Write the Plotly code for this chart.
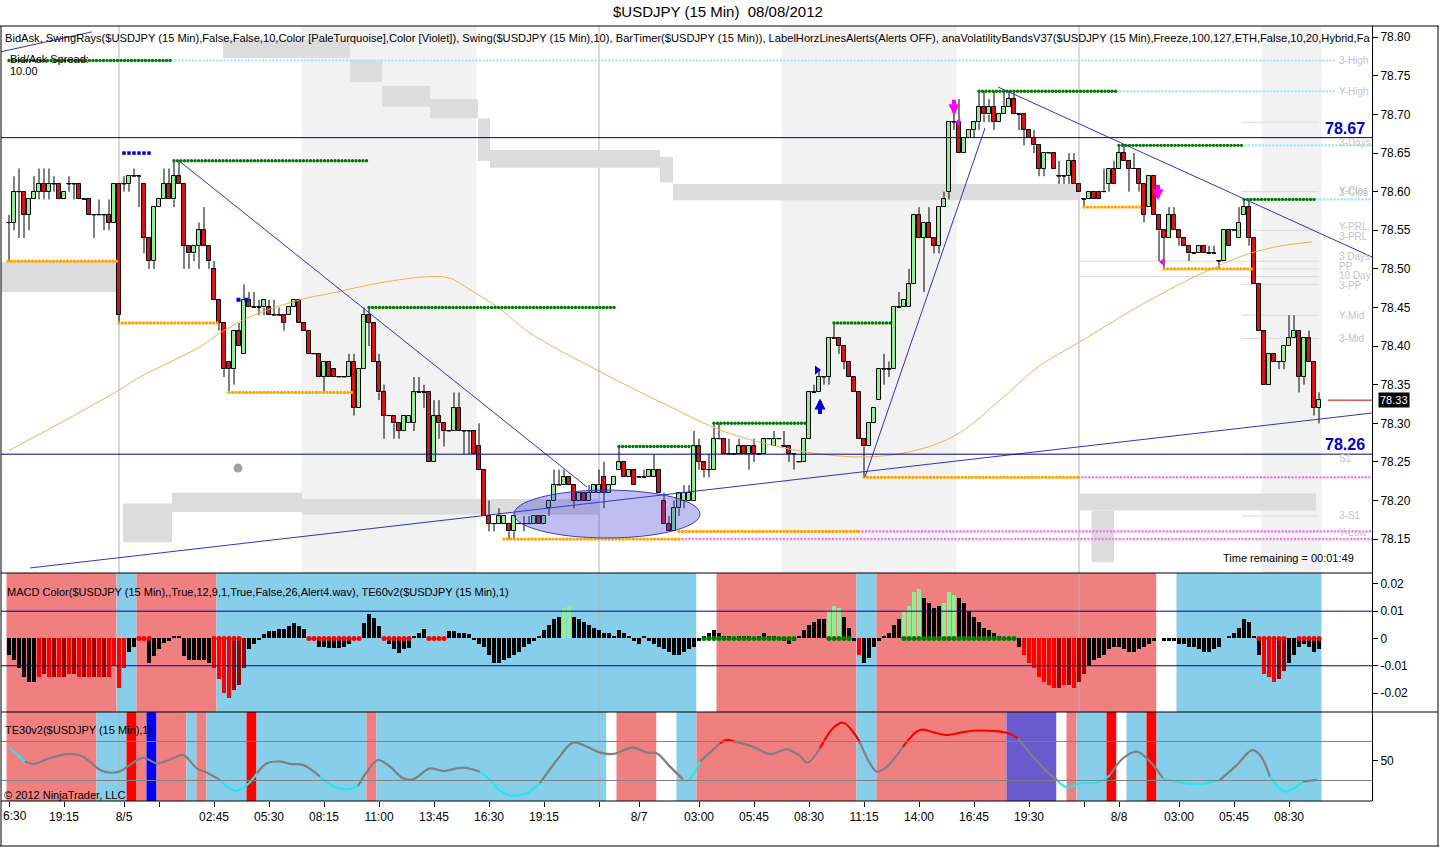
import plotly.graph_objects as go

FONT = "Liberation Sans, Arial, sans-serif"

# ---------------- price bars (15 min), index 0..262 ----------------
opens = [
 78.56,78.56,78.60,78.60,78.57,78.59,78.60,78.61,78.60,78.61,
 78.61,78.59,78.61,78.61,78.61,78.59,78.59,78.57,78.57,78.57,
 78.57,78.56,78.61,78.61,78.61,78.62,78.62,78.61,78.54,78.51,
 78.58,78.59,78.61,78.59,78.62,78.61,78.53,78.52,78.53,78.55,
 78.53,78.50,78.46,78.43,78.38,78.37,78.42,78.39,78.46,78.45,
 78.45,78.45,78.45,78.44,78.44,78.44,78.44,78.45,78.46,78.43,
 78.42,78.39,78.39,78.36,78.38,78.37,78.36,78.36,78.36,78.38,
 78.32,78.37,78.44,78.43,78.38,78.34,78.31,78.31,78.30,78.29,
 78.30,78.30,78.34,78.34,78.34,78.25,78.31,78.30,78.29,78.29,
 78.32,78.29,78.29,78.29,78.27,78.24,78.18,78.17,78.17,78.17,
 78.17,78.16,78.17,78.17,78.17,78.17,78.18,78.17,78.19,78.20,
 78.22,78.22,78.23,78.22,78.20,78.21,78.20,78.21,78.21,78.23,
 78.21,78.22,78.24,78.25,78.23,78.24,78.23,78.23,78.23,78.23,
 78.24,78.20,78.17,78.16,78.19,78.20,78.20,78.20,78.27,78.25,
 78.24,78.24,78.28,78.28,78.26,78.26,78.26,78.27,78.26,78.27,
 78.26,78.26,78.28,78.27,78.28,78.27,78.27,78.26,78.25,78.25,
 78.28,78.34,78.34,78.36,78.36,78.41,78.41,78.40,78.38,78.36,
 78.34,78.28,78.27,78.30,78.33,78.37,78.37,78.37,78.45,78.45,
 78.45,78.48,78.57,78.54,78.56,78.54,78.53,78.58,78.60,78.69,
 78.69,78.65,78.67,78.68,78.69,78.71,78.70,78.71,78.69,78.70,
 78.71,78.72,78.70,78.70,78.68,78.67,78.66,78.63,78.65,78.65,
 78.62,78.62,78.62,78.64,78.61,78.59,78.59,78.60,78.60,78.60,
 78.61,78.63,78.63,78.65,78.64,78.63,78.63,78.61,78.58,78.62,
 78.57,78.55,78.54,78.57,78.55,78.54,78.53,78.52,78.52,78.53,
 78.52,78.52,78.51,78.51,78.55,78.55,78.54,78.57,78.58,78.54,
 78.48,78.42,78.35,78.39,78.38,78.38,78.40,78.41,78.42,78.36,
 78.41,78.38,78.32]
highs = [
 78.57,78.62,78.63,78.60,78.59,78.62,78.63,78.63,78.63,78.62,
 78.61,78.60,78.62,78.61,78.61,78.59,78.59,78.57,78.59,78.57,
 78.59,78.61,78.61,78.62,78.62,78.63,78.62,78.61,78.54,78.58,
 78.59,78.63,78.63,78.64,78.64,78.61,78.53,78.53,78.56,78.58,
 78.53,78.51,78.46,78.43,78.38,78.42,78.43,78.48,78.47,78.47,
 78.46,78.46,78.46,78.46,78.45,78.44,78.45,78.46,78.46,78.43,
 78.42,78.39,78.39,78.38,78.38,78.37,78.36,78.36,78.39,78.39,
 78.37,78.45,78.45,78.43,78.39,78.35,78.31,78.31,78.30,78.31,
 78.31,78.36,78.36,78.35,78.34,78.33,78.33,78.30,78.29,78.34,
 78.34,78.29,78.29,78.29,78.30,78.24,78.20,78.17,78.19,78.18,
 78.17,78.18,78.17,78.18,78.18,78.18,78.18,78.18,78.20,78.24,
 78.24,78.24,78.23,78.22,78.21,78.21,78.22,78.22,78.24,78.25,
 78.22,78.23,78.27,78.25,78.24,78.24,78.23,78.24,78.24,78.26,
 78.24,78.21,78.18,78.20,78.21,78.22,78.22,78.29,78.28,78.25,
 78.26,78.30,78.30,78.28,78.28,78.26,78.28,78.27,78.27,78.28,
 78.26,78.28,78.28,78.29,78.28,78.29,78.27,78.26,78.25,78.28,
 78.34,78.35,78.37,78.36,78.41,78.43,78.41,78.40,78.38,78.36,
 78.34,78.28,78.30,78.32,78.37,78.39,78.38,78.45,78.47,78.46,
 78.50,78.57,78.58,78.56,78.58,78.54,78.58,78.60,78.69,78.71,
 78.72,78.67,78.68,78.69,78.73,78.73,78.72,78.73,78.70,78.73,
 78.73,78.73,78.70,78.70,78.68,78.68,78.66,78.65,78.65,78.65,
 78.64,78.62,78.65,78.65,78.61,78.59,78.60,78.60,78.60,78.63,
 78.63,78.64,78.66,78.66,78.64,78.65,78.63,78.61,78.62,78.62,
 78.57,78.55,78.58,78.58,78.55,78.54,78.53,78.52,78.53,78.53,
 78.53,78.53,78.51,78.55,78.55,78.55,78.58,78.59,78.59,78.54,
 78.48,78.42,78.39,78.39,78.38,78.40,78.44,78.44,78.42,78.41,
 78.42,78.38,78.34]
lows = [
 78.51,78.55,78.54,78.54,78.55,78.59,78.59,78.59,78.59,78.60,
 78.59,78.59,78.60,78.59,78.59,78.59,78.57,78.54,78.57,78.55,
 78.55,78.56,78.43,78.60,78.60,78.62,78.58,78.52,78.50,78.50,
 78.58,78.59,78.59,78.58,78.61,78.50,78.50,78.51,78.50,78.53,
 78.50,78.46,78.42,78.36,78.34,78.35,78.40,78.39,78.45,78.45,
 78.44,78.44,78.44,78.44,78.44,78.42,78.44,78.45,78.43,78.42,
 78.39,78.39,78.36,78.34,78.36,78.36,78.36,78.36,78.36,78.31,
 78.32,78.37,78.40,78.38,78.33,78.28,78.31,78.28,78.28,78.29,
 78.30,78.29,78.34,78.32,78.25,78.25,78.28,78.27,78.29,78.29,
 78.29,78.26,78.26,78.26,78.24,78.18,78.16,78.16,78.17,78.17,
 78.15,78.15,78.17,78.16,78.17,78.17,78.17,78.17,78.18,78.20,
 78.22,78.22,78.22,78.19,78.20,78.20,78.20,78.21,78.21,78.19,
 78.21,78.22,78.24,78.23,78.23,78.22,78.23,78.23,78.23,78.23,
 78.21,78.17,78.16,78.16,78.18,78.19,78.20,78.20,78.24,78.23,
 78.23,78.24,78.28,78.26,78.26,78.26,78.26,78.26,78.24,78.25,
 78.26,78.26,78.28,78.27,78.28,78.27,78.25,78.24,78.25,78.25,
 78.28,78.34,78.34,78.35,78.35,78.41,78.39,78.37,78.36,78.34,
 78.28,78.23,78.27,78.30,78.33,78.35,78.36,78.37,78.45,78.45,
 78.45,78.48,78.54,78.47,78.54,78.52,78.52,78.58,78.59,78.68,
 78.65,78.65,78.67,78.67,78.68,78.69,78.69,78.68,78.69,78.70,
 78.71,78.70,78.68,78.66,78.67,78.65,78.62,78.62,78.65,78.63,
 78.61,78.61,78.61,78.61,78.60,78.58,78.59,78.59,78.59,78.60,
 78.60,78.61,78.63,78.64,78.60,78.63,78.60,78.56,78.58,78.57,
 78.51,78.50,78.54,78.55,78.53,78.53,78.51,78.52,78.52,78.52,
 78.52,78.52,78.50,78.51,78.53,78.55,78.54,78.57,78.53,78.48,
 78.42,78.35,78.35,78.38,78.37,78.37,78.40,78.41,78.34,78.35,
 78.38,78.31,78.30]
closes = [
 78.56,78.60,78.60,78.57,78.59,78.60,78.61,78.60,78.61,78.61,
 78.59,78.60,78.61,78.61,78.59,78.59,78.57,78.57,78.57,78.57,
 78.56,78.61,78.44,78.61,78.62,78.62,78.62,78.54,78.51,78.58,
 78.59,78.61,78.59,78.62,78.61,78.53,78.52,78.53,78.55,78.53,
 78.51,78.46,78.43,78.37,78.37,78.42,78.40,78.46,78.45,78.45,
 78.45,78.46,78.44,78.44,78.44,78.43,78.45,78.46,78.43,78.42,
 78.39,78.39,78.36,78.38,78.36,78.36,78.36,78.36,78.38,78.32,
 78.37,78.44,78.43,78.38,78.34,78.31,78.31,78.30,78.29,78.31,
 78.31,78.34,78.34,78.34,78.25,78.31,78.30,78.29,78.29,78.32,
 78.29,78.29,78.29,78.26,78.24,78.18,78.17,78.17,78.18,78.18,
 78.16,78.18,78.17,78.17,78.17,78.18,78.17,78.18,78.20,78.22,
 78.22,78.23,78.22,78.20,78.21,78.20,78.21,78.22,78.22,78.21,
 78.22,78.23,78.25,78.23,78.24,78.22,78.23,78.23,78.24,78.24,
 78.21,78.17,78.16,78.19,78.21,78.21,78.21,78.27,78.25,78.24,
 78.24,78.28,78.28,78.26,78.26,78.26,78.27,78.26,78.27,78.26,
 78.26,78.28,78.28,78.28,78.28,78.27,78.26,78.26,78.25,78.28,
 78.34,78.34,78.36,78.36,78.41,78.41,78.40,78.38,78.36,78.34,
 78.28,78.27,78.30,78.32,78.37,78.37,78.37,78.45,78.45,78.46,
 78.48,78.57,78.54,78.56,78.54,78.53,78.58,78.59,78.69,78.69,
 78.65,78.67,78.68,78.69,78.71,78.70,78.71,78.69,78.70,78.71,
 78.72,78.70,78.70,78.68,78.67,78.66,78.63,78.65,78.65,78.63,
 78.62,78.62,78.64,78.61,78.60,78.59,78.60,78.59,78.59,78.60,
 78.63,78.61,78.65,78.64,78.63,78.63,78.61,78.57,78.62,78.57,
 78.55,78.54,78.57,78.55,78.54,78.53,78.52,78.52,78.53,78.52,
 78.52,78.52,78.51,78.55,78.53,78.55,78.56,78.58,78.54,78.48,
 78.42,78.35,78.39,78.38,78.38,78.40,78.41,78.42,78.36,78.41,
 78.38,78.32,78.33]

x_tick_idx = [0, 11, 23, 30, 41, 52, 63, 74, 85, 96, 107, 118, 126, 138, 149, 160,
              171, 182, 193, 204, 215, 222, 234, 245, 256]
x_tick_lbl = ["", "19:15", "8/5", "", "02:45", "05:30", "08:15", "11:00", "13:45",
              "16:30", "19:15", "", "8/7", "03:00", "05:45", "08:30", "11:15", "14:00",
              "16:45", "19:30", "", "8/8", "03:00", "05:45", "08:30"]
first_tick_visible = "6:30"   # the "16:30" label at the left edge is cut to "6:30" in the chart
price_ticks = [78.15, 78.20, 78.25, 78.30, 78.35, 78.40, 78.45, 78.50, 78.55, 78.60,
               78.65, 78.70, 78.75, 78.80]
macd_ticks = [0.02, 0.01, 0.0, -0.01, -0.02]
macd_tick_lbl = ["0.02", "0.01", "0", "-0.01", "-0.02"]

# moving average (orange), read at sample bars
ma_x = [0, 7.6, 22, 26.2, 38.2, 42.2, 48.2, 58.2, 64.8, 74.2, 84.2, 88.2, 92.2, 97.6,
        104.2, 117.6, 124.2, 130.8, 143.6, 160.2, 173.6, 183.6, 190.2, 198.2, 205.8,
        213.8, 225.8, 237.2, 247.2, 253.8, 260.6]
ma_y = [78.265, 78.291, 78.343, 78.360, 78.399, 78.417, 78.438, 78.460, 78.469, 78.482,
        78.490, 78.488, 78.473, 78.451, 78.417, 78.369, 78.347, 78.326, 78.288, 78.262,
        78.257, 78.269, 78.288, 78.330, 78.373, 78.404, 78.451, 78.490, 78.518, 78.529,
        78.535]

# swing rays: (start bar, end bar, level)
green_rays = [(0, 32.6, 78.77), (33, 71.6, 78.64), (72, 121.6, 78.45), (122, 136.6, 78.27),
              (141, 159.6, 78.30), (165, 176.6, 78.43), (194, 221.6, 78.73),
              (222, 246.6, 78.66), (247, 261.6, 78.59)]
orange_rays = [(-0.2, 21.6, 78.51), (22, 41.6, 78.43), (44, 68.6, 78.34), (99, 134, 78.15),
               (134, 170, 78.16), (171, 214, 78.23), (215, 226.6, 78.58), (231, 248.6, 78.50)]
turq_rays = [(32.6, 265.2, 78.77), (221.6, 265.2, 78.73), (246.6, 272.6, 78.66),
             (261.6, 272.6, 78.59)]
violet_rays = [(214, 272.6, 78.23), (170, 272.6, 78.16), (134, 272.6, 78.15)]

# trend lines: (x0, p0, x1, p1)
trend_lines = [(34.0, 78.640, 115.6, 78.2175), (4.2, 78.1126, 272.6, 78.3133),
               (171.2, 78.2304, 195.2, 78.6825), (197.8, 78.7356, 272.6, 78.5154),
               (-1.8, 78.781, 16.6, 78.807)]
hlines = [78.67, 78.26]

# pivot levels (short light-gray lines) and right-hand labels
pivot_lines = [(246.5, 262, 78.69), (246.5, 262, 78.60), (246.5, 262, 78.55),
               (214, 262, 78.51), (246.5, 262, 78.50), (214, 262, 78.49),
               (246.5, 262, 78.48), (246.5, 262, 78.44), (246.5, 262, 78.41),
               (246.5, 262, 78.26), (246.5, 262, 78.18)]
pivot_labels = [("3-High", 78.77), ("Y-High", 78.73), ("3-Days", 78.664), ("Y-Clos", 78.601),
                ("3-Clos", 78.599), ("Y-PRL", 78.555), ("3-PRL", 78.542), ("3 Days", 78.516),
                ("PP", 78.503), ("10 Day", 78.491), ("3-PP", 78.479), ("Y-Mid", 78.44),
                ("3-Mid", 78.41), ("S1", 78.255), ("3-S1", 78.18), ("Y-Low", 78.158)]

# volatility band blocks: (bar0, bar1, low, high)
vb_rects = [(42.8, 68.2, 78.773, 78.797), (68.2, 74.6, 78.742, 78.771),
            (74.6, 84.2, 78.710, 78.737), (84.2, 93.8, 78.695, 78.720),
            (93.8, 96.2, 78.640, 78.695), (96.2, 130.2, 78.631, 78.654),
            (130.2, 132.8, 78.612, 78.645), (132.8, 213.8, 78.589, 78.610),
            (-1.6, 21.6, 78.470, 78.509),
            (22.8, 32.6, 78.146, 78.196), (32.6, 58.6, 78.185, 78.210),
            (58.6, 118.0, 78.182, 78.202),
            (214.2, 261.4, 78.187, 78.209), (216.5, 221.0, 78.120, 78.187)]
session_shade = [(58.5, 93.5), (154.5, 189.5), (250.5, 262.5)]
session_lines = [22, 118, 214]

# ellipse (center bar, center price, half width bars, half height price)
ell = (119.6, 78.1825, 18.6, 0.031)

# ---------------- MACD panel ----------------
macd_vals = [
 -0.006,-0.008,-0.011,-0.014,-0.016,-0.016,-0.014,-0.013,-0.014,-0.014,
 -0.014,-0.014,-0.013,-0.013,-0.014,-0.014,-0.014,-0.014,-0.014,-0.014,
 -0.014,-0.010,-0.018,-0.011,-0.005,-0.003,-0.0005,-0.0005,-0.009,-0.0065,
 -0.004,-0.0016,-0.001,0.001,0.001,-0.0065,-0.008,-0.008,-0.008,-0.008,
 -0.009,-0.011,-0.015,-0.020,-0.022,-0.019,-0.017,-0.011,-0.004,-0.002,
 -0.0005,0.0015,0.0027,0.0027,0.0033,0.0033,0.0045,0.0057,0.0045,0.0033,
 -0.0005,-0.0005,-0.003,-0.003,-0.0035,-0.0035,-0.0035,-0.003,-0.002,-0.0005,
 -0.0005,0.0057,0.0088,0.0076,0.0045,-0.0005,-0.0022,-0.004,-0.0052,-0.004,
 -0.0034,0.0009,0.002,0.0033,-0.0005,-0.0005,-0.0005,-0.0005,0.0027,0.0027,
 0.002,0.002,0.0015,-0.0006,-0.002,-0.003,-0.006,-0.009,-0.009,-0.008,
 -0.007,-0.006,-0.005,-0.003,-0.002,-0.001,0.001,0.003,0.005,0.007,
 0.008,0.011,0.012,0.008,0.007,0.006,0.005,0.004,0.003,0.002,
 0.002,0.001,0.003,0.002,0.001,-0.001,-0.002,0.001,-0.001,-0.002,
 -0.003,-0.004,-0.005,-0.006,-0.006,-0.005,-0.004,-0.003,-0.001,0.001,
 0.002,0.003,0.002,0.001,0.001,0.0,0.001,0.001,0.001,0.0,
 0.001,0.002,0.001,0.001,0.0,-0.001,-0.002,-0.001,0.001,0.003,
 0.005,0.006,0.007,0.007,0.010,0.012,0.011,0.008,0.004,-0.001,
 -0.006,-0.009,-0.007,-0.003,-0.001,0.001,0.002,0.005,0.007,0.010,
 0.012,0.017,0.018,0.015,0.013,0.011,0.012,0.013,0.017,0.016,
 0.015,0.013,0.010,0.008,0.006,0.004,0.003,0.002,0.001,0.0,
 0.0,0.0,-0.003,-0.006,-0.009,-0.011,-0.014,-0.016,-0.017,-0.018,
 -0.018,-0.017,-0.017,-0.018,-0.016,-0.013,-0.010,-0.008,-0.007,-0.006,
 -0.004,-0.003,-0.003,-0.004,-0.005,-0.005,-0.004,-0.003,-0.002,-0.001,
 0.0,-0.001,-0.001,-0.001,-0.002,-0.002,-0.003,-0.003,-0.004,-0.005,
 -0.005,-0.004,-0.003,0.0,0.001,0.002,0.004,0.007,0.006,0.001,
 -0.006,-0.013,-0.014,-0.016,-0.015,-0.012,-0.009,-0.006,-0.003,-0.002,
 -0.003,-0.005,-0.004]
# histogram state per bar: k=black, r=red, d=dark red, g=light green
macd_state = ("k" * 6 + "rd" * 7 + "r" + "rrr" + "k" * 17 + "rrrr" + "ddd" + "k" * 63 + "gg"
              + "k" * 51 + "ggg" + "kkk" + "r" + "k" * 8 + "gggg" + "kkkk" + "ggg" + "k" * 13
              + "rrrrrrr" + "d" + "r" + "d" + "r" + "dd" + "k" * 35 + "rrr" + "dd" + "k" * 7)
macd_red_dots = [(26, 28), (41, 46), (60, 70), (75, 80), (84, 87), (250, 255), (258, 262)]
macd_green_dots = [(139, 157), (164, 168), (179, 201)]
macd_bg = [(0, 21, "s"), (22, 25, "b"), (26, 41, "s"), (42, 137, "b"), (138, 141, "w"),
           (142, 169, "s"), (170, 173, "b"), (174, 229, "s"), (230, 233, "w"), (234, 262, "b")]

# ---------------- TE30 panel ----------------
te_x = [0.2, 3.2, 4.8, 8.2, 12.2, 14.8, 18.2, 20.2, 22.2, 24.2, 26.8, 29.6, 32.8, 34.8,
        37.6, 39.6, 42.2, 45.2, 47.6, 49.6, 51.6, 54.2, 56.2, 58.8, 62.2, 64.8, 67.6,
        69.8, 71.6, 73.8, 76.2, 78.8, 80.8, 84.2, 86.8, 90.8, 94.2, 96.2, 98.2, 100.8,
        103.6, 106.2, 109.6, 112.8, 115.6, 118.2, 120.8, 124.8, 127.6, 129.6, 132.2,
        134.8, 135.8, 138.2, 142.2, 143.6, 145.2, 148.8, 151.6, 152.8, 155.6, 158.2,
        159.6, 162.2, 164.8, 166.8, 168.8, 170.2, 172.2, 173.6, 175.6, 178.8, 182.2,
        185.6, 187.6, 190.2, 192.8, 196.8, 199.6, 201.8, 204.8, 207.6, 209.6, 211.6,
        214.2, 218.2, 220.2, 222.8, 225.6, 228.2, 230.8, 233.6, 238.2, 242.2, 245.6,
        248.6, 250.2, 252.2, 255.2, 258.8, 261.6]
te_v = [56.5, 49.7, 48.5, 51.5, 53.6, 52.2, 45.4, 44.0, 44.7, 48.0, 51.7, 48.8, 51.4, 53.1,
        46.2, 44.0, 40.3, 34.8, 37.7, 43.7, 48.8, 49.7, 48.5, 48.0, 42.0, 37.2, 35.5,
        37.2, 44.5, 50.5, 47.1, 41.1, 40.6, 46.2, 44.9, 46.6, 44.5, 40.3, 34.8, 32.2,
        33.5, 38.6, 50.5, 59.4, 57.3, 54.3, 53.6, 56.8, 54.3, 53.9, 47.1,
        40.6, 39.9, 49.7, 59.1, 60.8, 59.9, 57.3, 53.9, 53.6, 56.0, 52.6,
        49.1, 56.5, 66.8, 69.6, 65.0, 59.4, 48.8, 44.5, 47.1, 57.3, 65.9,
        64.2, 63.3, 64.5, 65.5, 65.4, 64.5, 61.6, 52.2, 44.5, 40.3, 36.5,
        38.6, 39.4, 42.8, 51.4, 54.8, 49.7, 41.1, 39.4, 38.2, 40.3, 48.0,
        55.6, 53.1, 42.0, 34.3, 39.4, 40.3]
te_cyan_spans = [(0, 3.2), (42.2, 49.6), (62.2, 69.8), (94.2, 106.2), (134.8, 138.2),
                 (209.6, 220.2), (230.8, 242.2), (252.2, 258.8)]
te_red_spans = [(142.2, 145.2), (162.2, 170.2), (178.8, 201.8)]
te_bg = [(0, 17, "s"), (18, 23, "b"), (24, 25, "r"), (26, 27, "s"), (28, 29, "B"),
         (30, 35, "s"), (36, 37, "b"), (38, 39, "s"), (40, 47, "b"), (48, 49, "r"),
         (50, 71, "b"), (72, 73, "s"), (74, 119, "b"), (120, 121, "w"), (122, 129, "s"),
         (130, 133, "w"), (134, 137, "b"), (138, 169, "s"), (170, 173, "b"), (174, 199, "s"),
         (200, 209, "v"), (210, 211, "w"), (212, 213, "s"), (214, 219, "b"), (220, 221, "r"),
         (222, 223, "w"), (224, 227, "b"), (228, 229, "r"), (230, 262, "b")]

# ---------------- geometry helpers ----------------
W, H = 1440, 847
PL, PR, PT, PB = 1, 1372, 26, 801          # plot area in pixels
XMIN, XMAX = -1.6, 272.6
Y1 = [78.1061, 78.8146]
Y2 = [-0.02696, 0.0240]
Y3 = [29.5, 75.1]
D1 = [(PB - 573) / (PB - PT), 1.0]
D2 = [(PB - 712) / (PB - PT), (PB - 573) / (PB - PT)]
D3 = [0.0, (PB - 712) / (PB - PT)]


def xp(px):
    return (px - PL) / (PR - PL)


def yp(py):
    return (PB - py) / (PB - PT)


BG = {"s": "#f08080", "b": "#87ceeb", "w": "#ffffff", "r": "#ff0000", "B": "#0000ff",
      "v": "#6a5acd"}
MACD_COL = {"k": "#000000", "r": "#ff0000", "d": "#a00000", "g": "#90ee90"}

n = len(closes)
xs = list(range(n))
fig = go.Figure()
shapes = []

# session shading & bands (price panel)
for a, b in session_shade:
    shapes.append(dict(type="rect", xref="x", yref="y domain", x0=a, x1=b, y0=0, y1=1,
                       fillcolor="#f2f2f2", line_width=0, layer="below"))
for a, b, lo, hi in vb_rects:
    shapes.append(dict(type="rect", xref="x", yref="y", x0=a, x1=b, y0=lo, y1=hi,
                       fillcolor="#dcdcdc", line_width=0, layer="below"))
for a, b, lvl in pivot_lines:
    shapes.append(dict(type="line", xref="x", yref="y", x0=a, x1=b, y0=lvl, y1=lvl,
                       line=dict(color="#d8d8d8", width=1), layer="below"))
# panel backgrounds
for a, b, c in macd_bg:
    shapes.append(dict(type="rect", xref="x", yref="y2 domain", x0=a - 0.5, x1=b + 0.5,
                       y0=0, y1=1, fillcolor=BG[c], line_width=0, layer="below"))
for a, b, c in te_bg:
    shapes.append(dict(type="rect", xref="x", yref="y3 domain", x0=a - 0.5, x1=b + 0.5,
                       y0=0, y1=1, fillcolor=BG[c], line_width=0, layer="below"))
for s in session_lines:
    shapes.append(dict(type="line", xref="x", yref="paper", x0=s, x1=s, y0=0, y1=1,
                       line=dict(color="#b4b4b4", width=1), layer="below"))
# horizontal levels
for lvl in hlines:
    shapes.append(dict(type="line", xref="paper", yref="y", x0=0, x1=1, y0=lvl, y1=lvl,
                       line=dict(color="#000080", width=1), layer="above"))
for lvl in [0.01, -0.01]:
    shapes.append(dict(type="line", xref="paper", yref="y2", x0=0, x1=1, y0=lvl, y1=lvl,
                       line=dict(color="#0000a0", width=1), layer="above"))
for lvl in [60, 40]:
    shapes.append(dict(type="line", xref="paper", yref="y3", x0=0, x1=1, y0=lvl, y1=lvl,
                       line=dict(color="#808080", width=1), layer="above"))
# ellipse
cx, cy, rx, ry = ell
shapes.append(dict(type="circle", xref="x", yref="y", x0=cx - rx, x1=cx + rx,
                   y0=cy - ry, y1=cy + ry, fillcolor="rgba(70,70,220,0.35)",
                   line=dict(color="#3a3ad0", width=1), layer="above"))
# frames
frame = dict(color="black", width=1)
shapes += [
    dict(type="line", xref="paper", yref="paper", x0=xp(0), x1=xp(1439), y0=1, y1=1, line=frame),
    dict(type="line", xref="paper", yref="paper", x0=xp(1), x1=xp(1), y0=yp(846), y1=1, line=frame),
    dict(type="line", xref="paper", yref="paper", x0=xp(1438), x1=xp(1438), y0=yp(846), y1=1, line=frame),
    dict(type="line", xref="paper", yref="paper", x0=xp(0), x1=xp(1439), y0=yp(846), y1=yp(846), line=frame),
    dict(type="line", xref="paper", yref="paper", x0=0, x1=1, y0=D1[0], y1=D1[0], line=frame),
    dict(type="line", xref="paper", yref="paper", x0=0, x1=xp(1438), y0=D2[0], y1=D2[0], line=frame),
    dict(type="line", xref="paper", yref="paper", x0=0, x1=1, y0=0, y1=0, line=frame),
    dict(type="line", xref="x", yref="y", x0=263.8, x1=XMAX, y0=closes[-1], y1=closes[-1],
         line=dict(color="#cc0000", width=1)),
]

# ---- candles: wicks (split around the body) + bodies as bars ----
wx, wy = [], []
dx_, dy_ = [], []
body_base, body_h, body_col = [], [], []
for i in range(n):
    o, h, l, c = opens[i], highs[i], lows[i], closes[i]
    top, bot = max(o, c), min(o, c)
    h, l = max(h, top), min(l, bot)
    if h > top:
        wx += [i, i, None]; wy += [top, h, None]
    if l < bot:
        wx += [i, i, None]; wy += [l, bot, None]
    if top == bot:
        dx_ += [i - 0.42, i + 0.42, None]; dy_ += [o, o, None]
    body_base.append(bot)
    body_h.append(top - bot)
    body_col.append("#90ee90" if c > o else "#d71313")

fig.add_trace(go.Bar(x=xs, y=body_h, base=body_base, width=0.74, xaxis="x", yaxis="y",
                     marker=dict(color=body_col, line=dict(color="black", width=1)),
                     hoverinfo="skip", showlegend=False))
fig.add_trace(go.Scatter(x=wx, y=wy, mode="lines", line=dict(color="black", width=1),
                         hoverinfo="skip", showlegend=False))
fig.add_trace(go.Scatter(x=dx_, y=dy_, mode="lines", line=dict(color="black", width=1),
                         hoverinfo="skip", showlegend=False))

# moving average
fig.add_trace(go.Scatter(x=ma_x, y=ma_y, mode="lines", line=dict(color="#f5b04a", width=1),
                         line_shape="spline", hoverinfo="skip", showlegend=False))


def ray_trace(rays, color, size, step=0.7):
    rx_, ry_ = [], []
    for a, b, lvl in rays:
        k = a
        while k <= b + 1e-9:
            rx_.append(k)
            ry_.append(lvl)
            k += step
    return go.Scatter(x=rx_, y=ry_, mode="markers", marker=dict(color=color, size=size, line_width=0),
                      hoverinfo="skip", showlegend=False, cliponaxis=True)


fig.add_trace(ray_trace(turq_rays, "#a8ecec", 2.6))
fig.add_trace(ray_trace(violet_rays, "#ee82ee", 2.6))
fig.add_trace(ray_trace(green_rays, "#007a00", 3.4))
fig.add_trace(ray_trace(orange_rays, "#ffa500", 3.4))

for x0, p0, x1, p1 in trend_lines:
    fig.add_trace(go.Scatter(x=[x0, x1], y=[p0, p1], mode="lines",
                             line=dict(color="#3030d0", width=1), hoverinfo="skip",
                             showlegend=False))

# markers on price panel
fig.add_trace(go.Scatter(x=[23, 24, 25, 26, 27, 28], y=[78.65] * 6, mode="markers",
                         marker=dict(symbol="square", size=3.5, color="#0000dd"),
                         hoverinfo="skip", showlegend=False))
fig.add_trace(go.Scatter(x=[45.9, 47.5], y=[78.46, 78.46], mode="markers",
                         marker=dict(symbol="square", size=4, color="#0000dd"),
                         hoverinfo="skip", showlegend=False))
fig.add_trace(go.Scatter(x=[45.8], y=[78.242], mode="markers",
                         marker=dict(size=9, color="#a0a0a0"), hoverinfo="skip", showlegend=False))
fig.add_trace(go.Scatter(x=[161.6], y=[78.369], mode="markers",
                         marker=dict(symbol="triangle-right", size=8, color="#0000dd"),
                         hoverinfo="skip", showlegend=False))
fig.add_trace(go.Scatter(x=[189.9, 230.7], y=[78.69, 78.509], mode="markers",
                         marker=dict(symbol="triangle-left", size=7, color="#ff00ff"),
                         hoverinfo="skip", showlegend=False))
fig.add_trace(go.Scatter(x=[273.3], y=[closes[-1]], mode="markers",
                         marker=dict(symbol="triangle-left", size=9, color="black"),
                         hoverinfo="skip", showlegend=False, cliponaxis=False))

# MACD histogram
fig.add_trace(go.Bar(x=xs, y=macd_vals, xaxis="x", yaxis="y2", width=0.62,
                     marker=dict(color=[MACD_COL[c] for c in macd_state], line_width=0),
                     hoverinfo="skip", showlegend=False))
for runs_, col in [(macd_red_dots, "#ff0000"), (macd_green_dots, "#007a00")]:
    ddx = [k for a, b in runs_ for k in range(a, b + 1)]
    fig.add_trace(go.Scatter(x=ddx, y=[0] * len(ddx), xaxis="x", yaxis="y2", mode="markers",
                             marker=dict(size=5, color=col, line_width=0),
                             hoverinfo="skip", showlegend=False))


# TE30 line coloured by state
def te_state(m):
    for a, b in te_cyan_spans:
        if a <= m <= b:
            return "c"
    for a, b in te_red_spans:
        if a <= m <= b:
            return "r"
    return "g"


TE_COL = {"c": "#22e8f0", "r": "#ff0000", "g": "#808080"}
runs = []
for k in range(len(te_x) - 1):
    st = te_state((te_x[k] + te_x[k + 1]) / 2)
    if runs and runs[-1][0] == st:
        runs[-1][1].append(k + 1)
    else:
        runs.append([st, [k, k + 1]])
for st, idx in runs:
    fig.add_trace(go.Scatter(x=[te_x[i] for i in idx], y=[te_v[i] for i in idx], xaxis="x",
                             yaxis="y3", mode="lines", line=dict(color=TE_COL[st], width=2.2),
                             line_shape="spline", hoverinfo="skip", showlegend=False))

# ---------------- annotations ----------------
ann = []


def text(px, py, s, size=11, color="black", anchor="left", **kw):
    ann.append(dict(xref="paper", yref="paper", x=xp(px), y=yp(py), text=s, showarrow=False,
                    xanchor=anchor, yanchor="middle", font=dict(family=FONT, size=size, color=color),
                    **kw))


text(718, 12, "$USDJPY (15 Min) &nbsp;08/08/2012", size=15, anchor="center")
text(3, 38, "BidAsk, SwingRays($USDJPY (15 Min),False,False,10,Color [PaleTurquoise],Color [Violet]), "
            "Swing($USDJPY (15 Min),10), BarTimer($USDJPY (15 Min)), LabelHorzLinesAlerts(Alerts OFF), "
            "anaVolatilityBandsV37($USDJPY (15 Min),Freeze,100,127,ETH,False,10,20,Hybrid,Fa", size=11.15)
text(8, 59, "Bid/Ask Spread:", size=11)
text(8, 71, "10.00", size=11)
text(5, 592, "MACD Color($USDJPY (15 Min),,True,12,9,1,True,False,26,Alert4.wav), TE60v2($USDJPY (15 Min),1)", size=11)
text(3, 730, "TE30v2($USDJPY (15 Min),1)", size=11)
text(2, 795, "© 2012 NinjaTrader, LLC", size=11)
text(1356, 558, "Time remaining = 00:01:49", size=11, anchor="right")
# first time label at the left edge (shown cut in the chart)
text(1, 816, first_tick_visible, size=12, anchor="left")

for lbl, lvl in pivot_labels:
    ann.append(dict(xref="x", yref="y", x=265.5, y=lvl, text=lbl, showarrow=False,
                    xanchor="left", yanchor="middle",
                    font=dict(family=FONT, size=10, color="#c4c4c4")))
for lvl in hlines:
    ann.append(dict(xref="paper", yref="y", x=xp(1367), y=lvl + 0.012, text="<b>%.2f</b>" % lvl,
                    showarrow=False, xanchor="right", yanchor="middle",
                    font=dict(family=FONT, size=16, color="#0000cc")))
ann.append(dict(xref="paper", yref="y", x=xp(1378), y=closes[-1], text="%.2f" % closes[-1],
                showarrow=False, xanchor="left", yanchor="middle", bgcolor="black", borderpad=1,
                font=dict(family=FONT, size=11, color="white")))
# signal arrows
for bx, tip, col, up in [(189.0, 78.699, "#ff00ff", False), (229.8, 78.589, "#ff00ff", False),
                         (162.2, 78.332, "#0000dd", True)]:
    ann.append(dict(xref="x", yref="y", x=bx, y=tip, ax=0, ay=17 if up else -17, text="",
                    showarrow=True, arrowhead=2, arrowsize=0.55, arrowwidth=4, arrowcolor=col))

axis_common = dict(showgrid=False, zeroline=False, ticks="outside", ticklen=5, tickcolor="black",
                   tickfont=dict(family=FONT, size=12, color="black"), fixedrange=True)

fig.update_layout(
    width=W, height=H, margin=dict(l=PL, r=W - PR, t=PT, b=H - PB),
    paper_bgcolor="white", plot_bgcolor="white", showlegend=False, bargap=0, barmode="overlay",
    shapes=shapes, annotations=ann, hovermode=False,
    xaxis=dict(range=[XMIN, XMAX], anchor="y3", tickvals=x_tick_idx, ticktext=x_tick_lbl,
               showline=False, **axis_common),
    yaxis=dict(domain=D1, range=Y1, side="right", anchor="x", tickvals=price_ticks,
               tickformat=".2f", showline=True, linecolor="black", **axis_common),
    yaxis2=dict(domain=D2, range=Y2, side="right", anchor="x", tickvals=macd_ticks,
                ticktext=macd_tick_lbl, showline=True, linecolor="black", **axis_common),
    yaxis3=dict(domain=D3, range=Y3, side="right", anchor="x", tickvals=[50],
                ticktext=["50"], showline=True, linecolor="black", **axis_common),
)

fig.write_html("out.html", config={"displayModeBar": False},
               post_script="document.body.style.margin='0px';")
